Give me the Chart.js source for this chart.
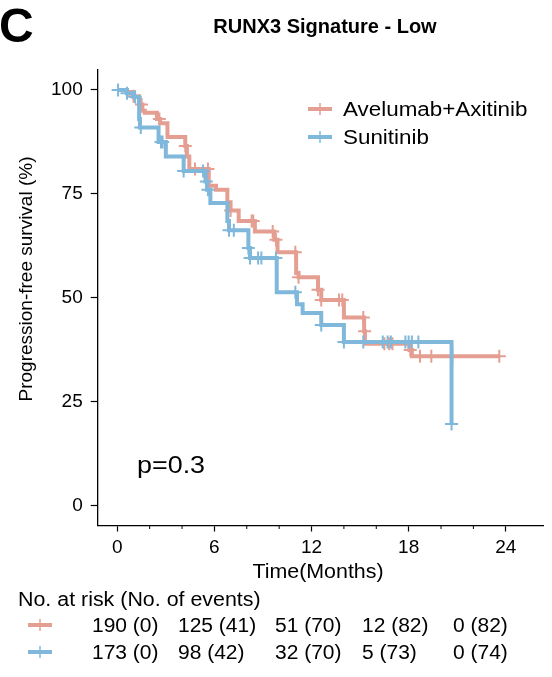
<!DOCTYPE html>
<html>
<head>
<meta charset="utf-8">
<script src="https://cdn.jsdelivr.net/npm/chart.js@4.4.0/dist/chart.umd.min.js"></script>
<style>
  html, body { margin: 0; padding: 0; background: #fff; }
</style>
</head>
<body>
<canvas id="kmChart" width="552" height="677"></canvas>
<script>
// Kaplan-Meier steps (months, % progression-free)
const aveTimes = [0, 0.6, 1.0, 1.35, 1.55, 1.7, 2.45, 2.65, 3.1, 4.2, 4.3, 4.45, 5.65, 6.1, 6.8, 7.0, 7.5, 8.5, 9.7, 9.9, 11.05, 11.2, 12.4, 12.6, 14.0, 15.25, 15.3, 18.05, 18.2, 23.6];
const aveSurv  = [100, 99.5, 98.5, 96.5, 95, 94.5, 93, 92, 88.7, 86.5, 84, 81, 77, 76, 73, 71, 68.5, 66, 64, 61, 56, 55, 52, 49.5, 45.3, 42, 39, 37.5, 36, 36];
const aveCensor = [1.0, 1.5, 2.6, 4.2, 4.8, 5.6, 7.0, 8.3, 8.4, 9.6, 9.8, 11.0, 11.2, 12.4, 12.6, 13.7, 13.9, 15.2, 15.28, 16.5, 16.8, 17.0, 18.1, 18.7, 19.4, 20.7, 23.6];

const sunTimes = [0, 0.6, 1.0, 1.35, 1.4, 2.55, 3.0, 4.1, 5.45, 5.55, 5.75, 6.8, 6.9, 8.1, 8.2, 9.85, 11.1, 11.45, 12.6, 14.0, 20.65];
const sunSurv  = [100, 99.2, 98.3, 93, 91, 87.5, 84, 80.5, 78, 76, 72.8, 68.5, 66.3, 62, 59.6, 51.4, 48.5, 46.4, 43.5, 39.4, 19.7];
const sunCensor = [0.05, 0.6, 1.1, 1.45, 2.7, 2.8, 4.1, 5.3, 5.5, 5.6, 6.9, 7.2, 8.1, 8.2, 8.7, 8.9, 9.8, 11.0, 12.6, 14.0, 15.2, 16.4, 16.7, 16.9, 17.8, 18.0, 18.2, 18.6, 20.65];

const groups = ['Avelumab+Axitinib', 'Sunitinib'];
const xTicks = [0, 6, 12, 18, 24];
const xMinor = [2, 4, 8, 10, 14, 16, 20, 22];
const yTicks = [0, 25, 50, 75, 100];
const riskAve = ['190 (0)', '125 (41)', '51 (70)', '12 (82)', '0 (82)'];
const riskSun = ['173 (0)', '98 (42)', '32 (70)', '5 (73)', '0 (74)'];
const pText = 'p=0.3';

const RED = 'rgb(229,158,146)';
const BLUE = 'rgb(127,184,219)';
const FONT = '"Liberation Sans", Arial, Helvetica, sans-serif';

function stepData(times, surv) {
    return times.map((t, i) => ({ x: t, y: surv[i] }));
}

// value of the curve at time t (after any drop at t)
function survAt(times, surv, t) {
    let v = surv[0];
    for (let i = 0; i < times.length; i++) {
        if (times[i] <= t) v = surv[i];
    }
    return v;
}

function censorData(times, surv, cens) {
    return cens.map(t => ({ x: t, y: survAt(times, surv, t) }));
}

function drawKey(c, x, y, color) {
    c.save();
    c.strokeStyle = color;
    c.lineWidth = 4;
    c.beginPath();
    c.moveTo(x - 12, y);
    c.lineTo(x + 12, y);
    c.stroke();
    c.lineWidth = 1.5;
    c.beginPath();
    c.moveTo(x, y - 6);
    c.lineTo(x, y + 6);
    c.stroke();
    c.restore();
}

// the original font runs a little wider than Liberation Sans
function wideText(c, s, x, y, sx) {
    c.save();
    c.translate(x, y);
    c.scale(sx, 1);
    c.fillText(s, 0, 0);
    c.restore();
}

// texts, legend, minor ticks and risk table
const extras = {
    id: 'extras',
    afterDraw(chart) {
        const c = chart.ctx;
        const xs = chart.scales.x;
        const area = chart.chartArea;
        c.save();

        // minor ticks on x
        c.strokeStyle = '#000';
        c.lineWidth = 1;
        xMinor.forEach(v => {
            const px = xs.getPixelForValue(v);
            c.beginPath();
            c.moveTo(px, area.bottom);
            c.lineTo(px, area.bottom + 3.5);
            c.stroke();
        });

        c.fillStyle = '#000';
        c.textBaseline = 'alphabetic';

        c.font = 'bold 48px ' + FONT;
        c.textAlign = 'left';
        c.fillText('C', -1, 42);

        c.font = 'bold 20px ' + FONT;
        c.textAlign = 'center';
        c.fillText('RUNX3 Signature - Low', 325, 33);

        // axis titles
        c.font = '20px ' + FONT;
        wideText(c, 'Time(Months)', 318, 578, 1.07);
        c.font = '19px ' + FONT;
        c.save();
        c.translate(32, 279);
        c.rotate(-Math.PI / 2);
        c.fillText('Progression-free survival (%)', 0, 0);
        c.restore();

        // legend
        c.textAlign = 'left';
        c.font = '20px ' + FONT;
        drawKey(c, 320, 109, RED);
        wideText(c, groups[0], 343, 116, 1.12);
        drawKey(c, 320, 137, BLUE);
        wideText(c, groups[1], 343, 144, 1.12);

        c.font = '23px ' + FONT;
        wideText(c, pText, 137, 473, 1.17);

        // risk table
        c.font = '20px ' + FONT;
        wideText(c, 'No. at risk (No. of events)', 18, 606, 1.07);
        const cols = [92, 178, 275, 362, 453];
        drawKey(c, 40, 625, RED);
        drawKey(c, 40, 652, BLUE);
        riskAve.forEach((s, i) => wideText(c, s, cols[i], 632, 1.05));
        riskSun.forEach((s, i) => wideText(c, s, cols[i], 659, 1.05));

        c.restore();
    }
};

const ctx = document.getElementById('kmChart');
new Chart(ctx, {
    type: 'line',
    data: {
        datasets: [
            {
                label: groups[0],
                data: stepData(aveTimes, aveSurv),
                borderColor: RED,
                borderWidth: 4,
                stepped: 'before',
                pointRadius: 0,
                fill: false,
                order: 3
            },
            {
                label: groups[0] + ' censored',
                data: censorData(aveTimes, aveSurv, aveCensor),
                showLine: false,
                pointStyle: 'cross',
                pointRadius: 6.5,
                borderColor: RED,
                borderWidth: 2,
                order: 2
            },
            {
                label: groups[1],
                data: stepData(sunTimes, sunSurv),
                borderColor: BLUE,
                borderWidth: 4,
                stepped: 'before',
                pointRadius: 0,
                fill: false,
                order: 1
            },
            {
                label: groups[1] + ' censored',
                data: censorData(sunTimes, sunSurv, sunCensor),
                showLine: false,
                pointStyle: 'cross',
                pointRadius: 6.5,
                borderColor: BLUE,
                borderWidth: 2,
                order: 0
            }
        ]
    },
    options: {
        responsive: false,
        animation: false,
        layout: { padding: { top: 70, right: 9, left: 0, bottom: 0 } },
        plugins: {
            legend: { display: false },
            tooltip: { enabled: false }
        },
        scales: {
            x: {
                type: 'linear',
                min: -1.21,
                max: 26.3,
                afterBuildTicks: (s) => { s.ticks = xTicks.map(v => ({ value: v })); },
                afterFit: (s) => { s.height = 151.5; },
                grid: { drawOnChartArea: false, tickLength: 6, tickColor: '#000', tickWidth: 1.2 },
                border: { color: '#000', width: 1.3 },
                ticks: { color: '#000', font: { family: FONT, size: 19 }, padding: 5, maxRotation: 0 }
            },
            y: {
                type: 'linear',
                min: -4.7,
                max: 104.8,
                afterBuildTicks: (s) => { s.ticks = yTicks.map(v => ({ value: v })); },
                afterFit: (s) => { s.width = 97.7; },
                grid: { drawOnChartArea: false, tickLength: 7, tickColor: '#000', tickWidth: 1.2 },
                border: { color: '#000', width: 1.3 },
                ticks: { color: '#000', font: { family: FONT, size: 19 }, padding: 8 }
            }
        }
    },
    plugins: [extras]
});
</script>
</body>
</html>
